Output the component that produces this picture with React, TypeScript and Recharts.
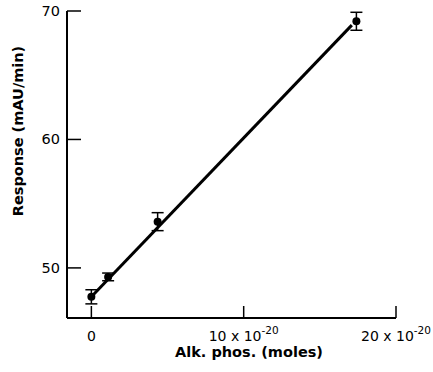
import React from 'react';
import { ComposedChart, Scatter, Line, XAxis, YAxis, ErrorBar } from 'recharts';

// measured points: amount of alk. phos. (x 10^-20 moles) vs response
const amounts = [0, 1.1, 4.35, 17.4];
const responses = [47.75, 49.3, 53.6, 69.2];
const errors = [0.55, 0.3, 0.7, 0.7];

// fitted line end points
const fitX = [0, 17.1];
const fitY = [47.75, 68.9];

const xTicks = [0, 10, 20];
const xTickLabels = ['0', '10 x 10', '20 x 10'];
const xTickExp = ['', '-20', '-20'];
const yTicks = [50, 60, 70];

const points = amounts.map((x, i) => ({ x, y: responses[i], err: errors[i] }));
const fit = fitX.map((x, i) => ({ x, y: fitY[i] }));

const font = '"DejaVu Sans", "Liberation Sans", sans-serif';

const XTick = (props: any) => {
  const { x, y, payload } = props;
  const i = xTicks.indexOf(payload.value);
  return (
    <g>
      <line x1={x} y1={y} x2={x} y2={y - 12} stroke="#000" strokeWidth={1.5} />
      <text x={x} y={y + 23} textAnchor="middle" fontFamily={font} fontSize={14} fill="#000">
        {xTickLabels[i]}
        {xTickExp[i] ? <tspan dy={-7} fontSize={10.5}>{xTickExp[i]}</tspan> : null}
      </text>
    </g>
  );
};

const YTick = (props: any) => {
  const { x, y, payload } = props;
  return (
    <g>
      <line x1={x} y1={y} x2={x + 14} y2={y} stroke="#000" strokeWidth={1.5} />
      <text x={x - 7} y={y + 5} textAnchor="end" fontFamily={font} fontSize={14.5} fill="#000">
        {payload.value}
      </text>
    </g>
  );
};

const Dot = (props: any) => {
  const { cx, cy } = props;
  return <circle cx={cx} cy={cy} r={4} fill="#000" />;
};

export default function App() {
  return (
    <div style={{ position: 'absolute', top: 0, left: 0, background: '#fff', width: 433, height: 372 }}>
      <ComposedChart
        width={433}
        height={372}
        margin={{ top: 11, right: 37, bottom: 0, left: 0 }}
      >
        <XAxis
          type="number"
          dataKey="x"
          domain={[-1.6, 20]}
          ticks={xTicks}
          tick={<XTick />}
          tickSize={0}
          tickMargin={0}
          tickLine={false}
          height={54}
          axisLine={{ stroke: '#000', strokeWidth: 2 }}
          allowDataOverflow
          label={{
            content: () => (
              <text x={249} y={357} textAnchor="middle" fontFamily={font} fontSize={14.5} fontWeight="bold" fill="#000">
                Alk. phos. (moles)
              </text>
            ),
          }}
        />
        <YAxis
          type="number"
          dataKey="y"
          domain={[46.1, 70]}
          ticks={yTicks}
          tick={<YTick />}
          tickSize={0}
          tickMargin={0}
          tickLine={false}
          width={67}
          axisLine={{ stroke: '#000', strokeWidth: 2 }}
          allowDataOverflow
          label={{
            content: () => (
              <text
                x={19}
                y={131}
                transform="rotate(-90 19 131)"
                textAnchor="middle"
                dominantBaseline="middle"
                fontFamily={font}
                fontSize={14.5}
                fontWeight="bold"
                fill="#000"
              >
                Response (mAU/min)
              </text>
            ),
          }}
        />
        <Line
          data={fit}
          dataKey="y"
          type="linear"
          stroke="#000"
          strokeWidth={3}
          dot={false}
          activeDot={false}
          isAnimationActive={false}
        />
        <Scatter data={points} dataKey="y" shape={<Dot />} isAnimationActive={false}>
          <ErrorBar dataKey="err" direction="y" width={6} stroke="#000" strokeWidth={1.5} />
        </Scatter>
      </ComposedChart>
    </div>
  );
}
